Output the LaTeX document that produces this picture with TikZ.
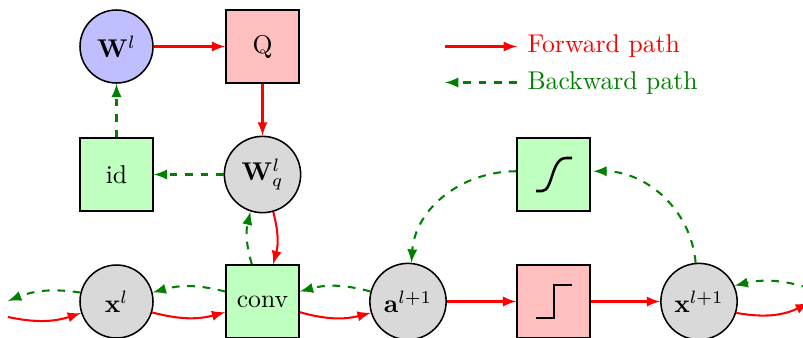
\documentclass[tikz,border=0pt]{standalone}
\usetikzlibrary{arrows}
\definecolor{fwd}{rgb}{1,0,0}
\definecolor{bwd}{rgb}{0,0.5,0}
\tikzset{
  boxn/.style={draw,rectangle,minimum size=1cm,inner sep=0pt,line width=0.6pt},
  circn/.style={draw,circle,minimum size=1cm,inner sep=2pt,line width=0.6pt,fill=black!15},
  bigc/.style={circn,minimum size=1.045cm},
  fw/.style={-latex,fwd,line width=0.8pt},
  bw/.style={-latex,bwd,line width=0.8pt,dashed},
  icon/.style={line width=1pt,black}
}
\begin{document}
\begin{tikzpicture}[x=1cm/73,y=-1cm/73]
\path[use as bounding box] (0,0) rectangle (803,337);
\clip (0,0) rectangle (803,337);
\node[circn,fill=blue!25] (W) at (116.5,46.5) {$\mathbf{W}^l$};
\node[boxn,fill=red!25] (Q) at (262.5,46.5) {Q};
\node[boxn,fill=green!25] (id) at (116.5,174.5) {id};
\node[bigc] (Wq) at (262.5,174.5) {$\mathbf{W}_q^l$};
\node[boxn,fill=green!25] (conv) at (262.5,301.5) {conv};
\node[circn] (xl) at (116.5,301.5) {$\mathbf{x}^l$};
\node[bigc] (a) at (408,301.5) {$\mathbf{a}^{l+1}$};
\node[boxn,fill=red!25] (step) at (553.5,301.5) {};
\node[bigc] (xn) at (699,301.5) {$\mathbf{x}^{l+1}$};
\node[boxn,fill=green!25] (sig) at (553.5,174.5) {};
\coordinate (lin) at (8,317);
\coordinate (lout) at (8,301);
\coordinate (rout) at (809,303);
\coordinate (rin) at (809,288);
\coordinate (f1) at (445,46.5);
\coordinate (f2) at (517,46.5);
\coordinate (b1) at (517,82.5);
\coordinate (b2) at (445,82.5);
\node[anchor=base west,inner sep=0pt,text=fwd] (ftext) at (527,52.5) {Forward path};
\node[anchor=base west,inner sep=0pt,text=bwd] (btext) at (527,89) {Backward path};
\draw[fw] (f1) -- (f2);
\draw[bw] (b1) -- (b2);
\draw[fw] (W) -- (Q);
\draw[fw] (Q) -- (Wq);
\draw[bw] (Wq) -- (id);
\draw[bw] (id) -- (W);
\draw[fw] (Wq.286) to[bend left=15] (conv.74);
\draw[bw] (conv.106) to[bend left=15] (Wq.252);
\draw[fw] (lin) to[bend right=15] (xl.198);
\draw[bw] (xl.166) to[bend right=15] (lout);
\draw[fw] (xl.-17) to[bend right=15] (conv.196);
\draw[bw] (conv.165) to[bend right=15] (xl.14);
\draw[fw] (conv.-16) to[bend right=15] (a.197);
\draw[bw] (a.165) to[bend right=15] (conv.15);
\draw[fw] (a) -- (step);
\draw[fw] (step) -- (xn);
\draw[fw] (xn.-17) to[bend right=18] (rout);
\draw[bw] (rin) to[bend right=15] (xn.24);
\draw[bw] (sig.175) to[out=180,in=86] (a.85);
\draw[bw,shorten >=1pt] (xn.95) to[out=95,in=0] (sig.5);
\draw[icon] (536,318) -- (554,318) -- (554,285) -- (572,285);
\draw[icon] (536,191) -- (542,191) .. controls (553,191) and (551,158) .. (566,158) -- (572,158);
\end{tikzpicture}
\end{document}
